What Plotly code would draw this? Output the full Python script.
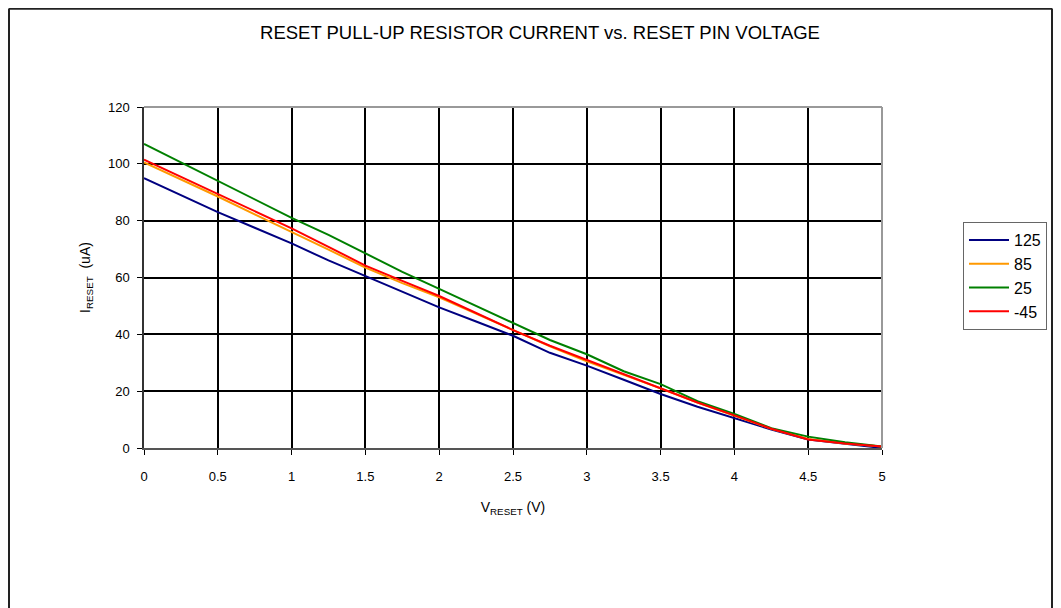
import plotly.graph_objects as go

voltage = [0, 0.25, 0.5, 0.75, 1, 1.25, 1.5, 1.75, 2, 2.25, 2.5, 2.75, 3, 3.25, 3.5, 3.75, 4, 4.25, 4.5, 4.75, 5]
i_125 = [95, 89, 83, 77.5, 72, 66, 60.5, 55, 49.5, 44.5, 39.5, 33.5, 29, 24, 19, 14.5, 10.5, 6.5, 3, 1.5, 0]
i_85 = [100.5, 94.5, 88.5, 82.2, 76.1, 69.8, 63.5, 58, 53, 47.2, 41.5, 35.8, 30.5, 25.8, 21, 16, 11.5, 6.8, 3.2, 1.6, 0.5]
i_25 = [107, 100.5, 94, 87.5, 81, 75, 68.5, 62, 56, 50, 44, 38, 33, 27, 22.5, 16.5, 12, 7, 4, 2, 0.5]
i_m45 = [101.5, 95.4, 89.3, 83.3, 77.3, 70.8, 64.2, 58.8, 53.5, 47.5, 41.5, 36, 31, 26, 21, 16, 11.5, 6.8, 3, 1.6, 0.5]

series_names = ["125", "85", "25", "-45"]
series_values = [i_125, i_85, i_25, i_m45]
colors = ["#000080", "#FF9900", "#008000", "#FF0000"]

OFF = 8  # page body margin
W, H = 1061 - OFF, 608 - OFF
L, R, T, B = 144 - OFF, 882 - OFF, 107 - OFF, 448 - OFF

fig = go.Figure()
for name, vals, c in zip(series_names, series_values, colors):
    fig.add_trace(go.Scatter(x=voltage, y=vals, mode="lines", name=name,
                             line=dict(color=c, width=2)))

pw = R - L
ph = B - T

def px(x):
    return (x - OFF - L) / pw

def py(y):
    return (B - (y - OFF)) / ph

# outer chart border
border = dict(color="#222222", width=2)
fig.add_shape(type="line", xref="paper", yref="paper", x0=px(9), x1=px(9), y0=py(8.5), y1=py(620), line=border)
fig.add_shape(type="line", xref="paper", yref="paper", x0=px(1052), x1=px(1052), y0=py(8.5), y1=py(620), line=border)
fig.add_shape(type="line", xref="paper", yref="paper", x0=px(9), x1=px(1052), y0=py(8.8), y1=py(8.8), line=border)

fig.update_layout(
    width=W, height=H,
    margin=dict(l=L, r=W - R, t=T, b=H - B),
    paper_bgcolor="white", plot_bgcolor="white",
    font=dict(family="Liberation Sans, Arial, sans-serif", color="black", size=13),
    title=dict(text="RESET PULL-UP RESISTOR CURRENT vs. RESET PIN VOLTAGE",
               xref="paper", x=px(540), xanchor="center",
               yref="container", y=1 - (33 - OFF) / H, yanchor="middle",
               font=dict(size=18.5)),
    xaxis=dict(range=[0, 5], dtick=0.5, showgrid=True, gridcolor="black", gridwidth=1.5,
               zeroline=False, showline=True, linecolor="#555555", linewidth=1.5, mirror=False,
               ticks="outside", ticklen=5, tickcolor="black",
               tickfont=dict(size=13), ticklabelstandoff=11,
               title=dict(text="V<sub>RESET</sub> (V)", font=dict(size=14), standoff=19)),
    yaxis=dict(range=[0, 120], dtick=20, showgrid=True, gridcolor="black", gridwidth=1.5,
               zeroline=False, showline=True, linecolor="#333333", linewidth=1.5,
               ticks="outside", ticklen=5, tickcolor="black",
               tickfont=dict(size=13), ticklabelstandoff=5,
               title=dict(text="I<sub>RESET</sub>  (uA)", font=dict(size=14), standoff=14)),
    legend=dict(x=px(963), y=py(222), xanchor="left", yanchor="top",
                bordercolor="#666666", borderwidth=1, bgcolor="white",
                font=dict(size=16), tracegroupgap=0, itemwidth=40),
    showlegend=True,
)

fig.add_shape(type="line", xref="paper", yref="paper", x0=0, x1=1, y0=1, y1=1,
              line=dict(color="#999999", width=2))
fig.add_shape(type="line", xref="paper", yref="paper", x0=1, x1=1, y0=0, y1=1,
              line=dict(color="#999999", width=2))

fig.write_html("out.html")
